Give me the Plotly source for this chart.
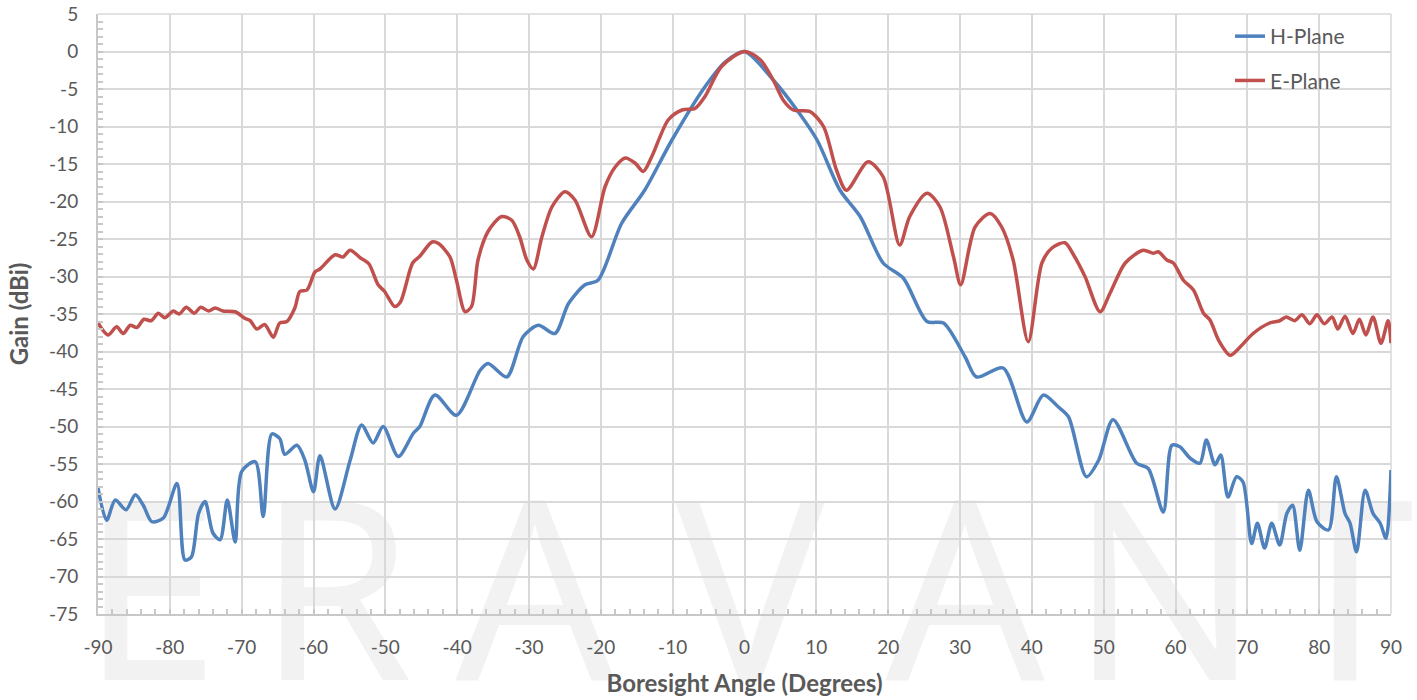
import plotly.graph_objects as go

# H-Plane (angle in degrees, gain in dBi)
h_angle = [-90, -88.8, -87.6, -86.1, -84.8, -83.7, -82.5, -80.9, -79.0, -77.9, -77.0, -76.0,
           -75.1, -74.0, -73.0, -72.0, -70.9, -70.0, -68.1, -67.0, -65.8, -64.7, -64.0, -62.3,
           -61.2, -60.0, -59.1, -57.0, -54.9, -53.3, -51.7, -50.3, -48.2, -46.1, -45.2, -43.1,
           -40.1, -36.8, -35.7, -33.1, -30.8, -28.7, -26.4, -24.5, -22.2, -20.4, -17.1, -13.9,
           -10.1, -5.5, -2.7, 0, 4.0, 7.3, 10.1, 13.3, 16.1, 19.3, 22.1, 25.4, 27.7, 30.7, 32.3,
           36.0, 39.3, 41.6, 43.7, 45.1, 47.6, 49.3, 51.3, 54.6, 56.2, 58.3, 59.5, 60.6, 62.0,
           63.4, 64.3, 65.5, 66.3, 67.3, 68.5, 69.4, 70.6, 71.4, 72.4, 73.4, 74.5, 75.5, 76.3,
           77.3, 78.5, 79.7, 81.3, 82.4, 83.6, 84.3, 85.2, 86.4, 87.5, 88.5, 89.3, 90]
h_gain = [-58.2, -62.5, -59.8, -61.1, -59.1, -60.5, -62.7, -62.2, -57.6, -67.8, -67.4, -61.6,
          -60.0, -64.2, -65.1, -59.8, -65.4, -56.0, -54.7, -62.0, -51.0, -51.6, -53.7, -52.5,
          -54.5, -58.7, -53.9, -61.0, -54.5, -49.8, -52.2, -50.0, -54.0, -50.9, -50.0, -45.8,
          -48.5, -42.5, -41.6, -43.4, -38.0, -36.5, -37.6, -33.6, -31.1, -30.5, -22.9, -18.5,
          -11.8, -4.7, -1.4, 0, -3.8, -7.8, -11.8, -18.5, -22.0, -28.2, -30.2, -36.0, -36.2, -40.7, -43.4,
          -42.2, -49.4, -45.8, -47.4, -48.7, -56.7, -54.5, -49.1, -54.9, -55.6, -61.4, -52.5, -52.7, -54.2,
          -54.9, -51.8, -55.1, -53.8, -59.4, -56.7, -57.4, -65.6, -62.9, -66.2, -62.9, -65.8, -61.6, -60.5,
          -66.5, -58.5, -62.7, -63.8, -56.7, -61.6, -62.9, -66.7, -58.5, -61.6, -62.9, -64.9, -55.8]

# E-Plane
e_angle = [-90, -88.6, -87.4, -86.5, -85.5, -84.6, -83.6, -82.6, -81.6, -80.7, -79.5, -78.7,
           -77.7, -76.6, -75.7, -74.6, -73.7, -72.6, -70.9, -69.5, -68.8, -67.9, -66.8, -65.6,
           -64.7, -63.7, -62.6, -61.9, -60.9, -59.8, -59.1, -57.0, -55.9, -54.9, -53.5, -52.3,
           -51.0, -50.1, -48.7, -47.9, -46.2, -45.2, -43.5, -42.6, -41.0, -40.1, -38.9, -38.0,
           -37.1, -35.7, -33.8, -32.4, -31.3, -30.3, -29.4, -28.2, -26.8, -25.0, -23.6, -21.3,
           -19.4, -18.0, -16.6, -15.2, -14.1, -12.9, -10.6, -8.7, -6.9, -5.5, -3.2, 0, 2.2, 4.0,
           5.4, 6.8, 9.1, 11.0, 12.8, 14.2, 17.2, 19.3, 21.6, 23.0, 25.4, 27.2, 29.1, 30.1, 32.1,
           34.2, 35.8, 37.4, 39.5, 41.4, 42.8, 44.6, 45.8, 47.4, 49.5, 50.9, 53.0, 55.5, 56.9,
           57.6, 58.8, 59.7, 61.1, 62.5, 63.9, 64.8, 66.0, 67.6, 69.0, 70.8, 73.1, 74.5, 75.4,
           76.6, 77.6, 78.7, 79.7, 80.7, 81.8, 82.6, 83.6, 84.7, 85.6, 86.5, 87.5, 88.6, 89.6, 90]
e_gain = [-36.2, -37.8, -36.7, -37.6, -36.5, -36.8, -35.7, -35.9, -34.9, -35.5, -34.6, -35.0,
          -34.1, -34.9, -34.1, -34.6, -34.2, -34.6, -34.7, -35.6, -35.9, -37.0, -36.4, -38.1,
          -36.2, -36.0, -34.2, -32.0, -31.8, -29.4, -29.0, -27.1, -27.4, -26.5, -27.5, -28.3,
          -31.1, -32.0, -34.0, -33.4, -28.2, -27.3, -25.4, -25.6, -27.4, -30.5, -34.7, -34.0,
          -27.8, -24.0, -22.0, -22.5, -24.7, -27.8, -29.0, -24.7, -20.7, -18.7, -19.8, -24.7,
          -18.0, -15.4, -14.2, -14.9, -16.0, -14.0, -9.1, -7.8, -7.6, -6.0, -2.0, 0, -1.1, -3.8,
          -6.5, -7.8, -8.0, -10.0, -15.8, -18.5, -14.7, -16.7, -25.8, -22.0, -18.9, -20.7, -27.4, -31.1, -23.4,
          -21.6, -23.4, -27.8, -38.7, -28.2, -26.2, -25.5, -27.1, -30.0, -34.7, -32.2, -28.2, -26.5, -26.9,
          -26.7, -27.8, -28.2, -30.5, -31.8, -34.9, -35.8, -38.5, -40.5, -39.4, -37.6, -36.2, -35.9, -35.4,
          -35.9, -35.1, -36.3, -35.1, -36.3, -35.4, -37.0, -35.3, -37.6, -35.7, -37.8, -35.4, -38.9, -35.9, -38.9]

x_ticks = list(range(-90, 91, 10))
y_ticks = list(range(-75, 6, 5))
watermark_letters = ["E", "R", "A", "V", "A", "N", "T"]
watermark_centers_px = [150, 335, 535, 750, 965, 1165, 1345]

FONT = "Lato, Carlito, Calibri, sans-serif"
GREY = "#595959"

fig = go.Figure()
fig.add_trace(go.Scatter(x=h_angle, y=h_gain, name="H-Plane", mode="lines",
                         line=dict(color="#4F81BD", width=3.5, shape="spline", smoothing=0.8),
                         legendgroup="h"))
fig.add_trace(go.Scatter(x=e_angle, y=e_gain, name="E-Plane", mode="lines",
                         line=dict(color="#C0504D", width=3.5, shape="spline", smoothing=0.8),
                         legendgroup="e"))

L, R, T, B = 98, 26, 14, 86
W, H = 1417, 700
pw = W - L - R
ph = H - T - B
shapes = []
for letter, cx in zip(watermark_letters, watermark_centers_px):
    x0 = (cx - 100 - L) / pw
    x1 = (cx + 100 - L) / pw
    yc = (H - B - 600) / ph
    shapes.append(dict(type="rect", xref="paper", yref="paper", x0=x0, x1=x1,
                       y0=yc - 0.15, y1=yc + 0.15, layer="below",
                       line=dict(width=0), fillcolor="rgba(0,0,0,0)",
                       label=dict(text=letter, font=dict(size=250, color="#f2f2f2",
                                                         family="Noto Sans"),
                                  textposition="middle center")))

fig.update_layout(
    width=W, height=H,
    margin=dict(l=L, r=R, t=T, b=B, autoexpand=False),
    paper_bgcolor="white", plot_bgcolor="rgba(0,0,0,0)",
    font=dict(family=FONT, color=GREY, size=19),
    shapes=shapes,
    legend=dict(x=(1230 - L) / pw, y=(H - B - 16) / ph, xanchor="left", yanchor="top",
                bgcolor="rgba(0,0,0,0)", font=dict(size=21, color=GREY),
                traceorder="grouped", tracegroupgap=14),
    xaxis=dict(range=[-90, 90], tickvals=x_ticks, ticktext=[str(v) for v in x_ticks],
               showgrid=True, gridcolor="#d9d9d9", gridwidth=1.5, automargin=False,
               showline=True, linecolor="#c8c8c8", linewidth=2,
               ticks="inside", ticklen=5, tickcolor="#c8c8c8", tickwidth=1.5,
               minor=dict(dtick=2, ticks="inside", ticklen=5, tickcolor="#c8c8c8",
                          tickwidth=1.5, showgrid=False),
               ticklabelstandoff=15, zeroline=False,
               title=dict(text="<b>Boresight Angle (Degrees)</b>", font=dict(size=24, color=GREY),
                          standoff=18)),
    yaxis=dict(range=[-75, 5], tickvals=y_ticks, ticktext=[str(v) for v in y_ticks],
               showgrid=True, gridcolor="#d9d9d9", gridwidth=1.5, automargin=False,
               showline=True, linecolor="#c8c8c8", linewidth=2,
               ticks="inside", ticklen=5, tickcolor="#c8c8c8", tickwidth=1.5,
               minor=dict(dtick=1, ticks="inside", ticklen=5, tickcolor="#c8c8c8",
                          tickwidth=1.5, showgrid=False),
               ticklabelstandoff=14, zeroline=False,
               title=dict(text="<b>Gain (dBi)</b>", font=dict(size=24, color=GREY), standoff=14)),
)
# top and right border gridlines
fig.add_shape(type="line", xref="paper", yref="paper", x0=0, x1=1, y0=1, y1=1,
              line=dict(color="#d9d9d9", width=1.5), layer="below")
fig.add_shape(type="line", xref="paper", yref="paper", x0=1, x1=1, y0=0, y1=1,
              line=dict(color="#d9d9d9", width=1.5), layer="below")

fig.write_html("out.html")
